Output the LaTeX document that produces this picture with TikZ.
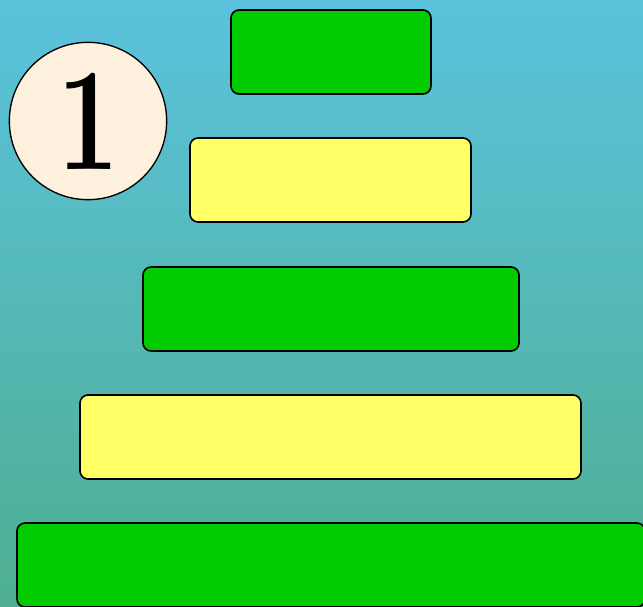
\documentclass[tikz,border=0pt]{standalone}
\usepackage{xcolor}
\usepackage{graphicx}

\definecolor{bargreen}{HTML}{00CC00}
\definecolor{baryellow}{HTML}{FFFF66}
\definecolor{skytop}{HTML}{5BC2DD}
\definecolor{skybottom}{HTML}{4EAF91}
\definecolor{cream}{HTML}{FDF0DC}

\tikzset{
    tier/.style={draw, line width=1.2pt, rounded corners=6pt, minimum height=63pt, inner sep=0pt},
    greentier/.style={tier, fill=bargreen},
    yellowtier/.style={tier, fill=baryellow}
}

\begin{document}
\begin{tikzpicture}[x=0.75pt,y=-0.75pt]
\clip (0,0) rectangle (643,607);
\shade[top color=skytop, bottom color=skybottom] (0,0) rectangle (643,607);

% the five tiers, narrow at the top
\node[greentier, minimum width=150pt] (tierone) at (331,52) {};
\node[yellowtier, minimum width=210.75pt] (tiertwo) at (330.5,180) {};
\node[greentier, minimum width=282pt] (tierthree) at (331,309) {};
\node[yellowtier, minimum width=375.75pt] (tierfour) at (330.5,437) {};
\node[greentier, minimum width=471pt] (tierfive) at (331,565) {};

% step number
\node[draw, circle, fill=cream, line width=1pt, minimum size=118pt, inner sep=0pt,
      font=\fontsize{110}{110}\selectfont\bfseries] (stepno) at (88,121) {\scalebox{0.75}[1]{1}};
\end{tikzpicture}
\end{document}
